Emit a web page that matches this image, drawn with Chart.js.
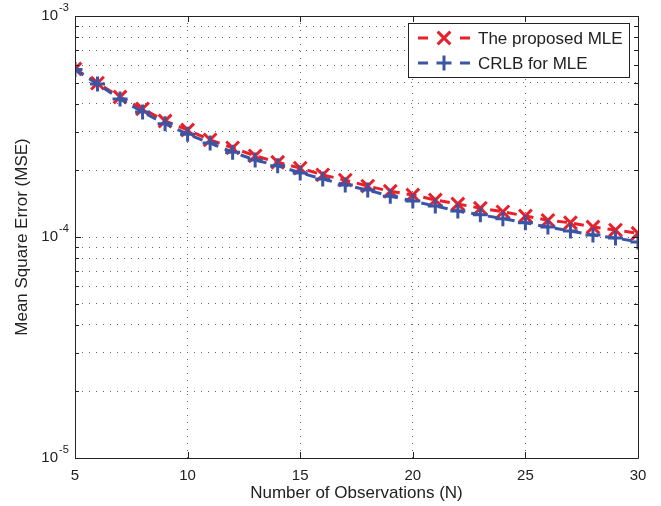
<!DOCTYPE html>
<html>
<head>
<meta charset="utf-8">
<script src="https://cdn.jsdelivr.net/npm/chart.js@4.4.0/dist/chart.umd.min.js"></script>
<style>
  body { margin: 0; background: #fff; }
  canvas { display: block; }
</style>
</head>
<body>
<canvas id="myChart" width="661" height="506"></canvas>
<script>
// observations N
const observations = [5, 6, 7, 8, 9, 10, 11, 12, 13, 14, 15, 16, 17, 18, 19, 20, 21, 22, 23, 24, 25, 26, 27, 28, 29, 30];

// MSE of the proposed estimator (red)
const mleMSE = [5.76e-4, 4.97e-4, 4.30e-4, 3.80e-4, 3.35e-4, 3.05e-4, 2.75e-4, 2.53e-4, 2.33e-4, 2.18e-4,
  2.05e-4, 1.91e-4, 1.81e-4, 1.70e-4, 1.61e-4, 1.55e-4, 1.47e-4, 1.41e-4, 1.35e-4, 1.30e-4,
  1.245e-4, 1.19e-4, 1.16e-4, 1.11e-4, 1.075e-4, 1.04e-4];

// CRLB (blue)
const crlb = [5.72e-4, 4.92e-4, 4.21e-4, 3.68e-4, 3.25e-4, 2.92e-4, 2.66e-4, 2.42e-4, 2.23e-4, 2.10e-4,
  1.95e-4, 1.83e-4, 1.72e-4, 1.63e-4, 1.53e-4, 1.455e-4, 1.38e-4, 1.31e-4, 1.26e-4, 1.21e-4,
  1.16e-4, 1.11e-4, 1.065e-4, 1.02e-4, 9.9e-5, 9.5e-5];

// axis ticks
const xTicks = [5, 10, 15, 20, 25, 30];
const yDecades = [1e-5, 1e-4, 1e-3];
const yTickBase = '10';
const yTickExp = ['-5', '-4', '-3'];

const RED = '#e8202a';
const BLUE = '#3a55a4';
const TXT = '#222';
const FONT = "'Liberation Sans', Arial, sans-serif";

const ctx = document.getElementById("myChart").getContext("2d");

function decadeIndex(value) {
  return yDecades.findIndex(d => Math.abs(d - value) / d < 1e-6);
}

// box round the plot + inward ticks + exponents + legend
const framePlugin = {
  id: 'frame',
  afterDraw(chart) {
    const c = chart.ctx;
    const a = chart.chartArea;
    const xs = chart.scales.x, ys = chart.scales.y;
    c.save();
    c.strokeStyle = '#222';
    c.lineWidth = 1;
    c.beginPath();
    c.rect(a.left + 0.5, a.top + 0.5, a.right - a.left, a.bottom - a.top);
    c.stroke();

    c.beginPath();
    xs.ticks.forEach(t => {
      const px = Math.round(xs.getPixelForValue(t.value)) + 0.5;
      c.moveTo(px, a.bottom); c.lineTo(px, a.bottom - 6);
      c.moveTo(px, a.top); c.lineTo(px, a.top + 6);
    });
    ys.ticks.forEach(t => {
      const py = Math.round(ys.getPixelForValue(t.value)) + 0.5;
      const len = decadeIndex(t.value) >= 0 ? 6 : 4;
      c.moveTo(a.left, py); c.lineTo(a.left + len, py);
      c.moveTo(a.right, py); c.lineTo(a.right - len, py);
    });
    c.stroke();

    // exponents of the y tick labels
    c.fillStyle = TXT;
    c.font = "11px " + FONT;
    c.textAlign = 'left';
    c.textBaseline = 'alphabetic';
    yDecades.forEach((d, i) => {
      const py = ys.getPixelForValue(d);
      c.fillText(yTickExp[i], 59, py - 5);
    });

    // legend
    const lx = 408, ly = 23, lw = 221, lh = 54;
    c.fillStyle = '#fff';
    c.fillRect(lx, ly, lw, lh);
    c.strokeStyle = '#222';
    c.lineWidth = 1;
    c.strokeRect(lx + 0.5, ly + 0.5, lw, lh);
    chart.data.datasets.slice().sort((p, q) => p.legendRow - q.legendRow).forEach((ds, i) => {
      const y = ly + 15 + i * 25;
      c.strokeStyle = ds.borderColor;
      c.lineWidth = 3;
      c.setLineDash([]);
      c.beginPath();
      c.moveTo(418, y); c.lineTo(428, y);
      c.moveTo(460, y); c.lineTo(470, y);
      c.stroke();
      Chart.helpers.drawPoint(c, {
        pointStyle: ds.pointStyle, radius: ds.pointRadius, borderWidth: 3
      }, 444, y);
      c.fillStyle = TXT;
      c.font = "17px " + FONT;
      c.textBaseline = 'middle';
      c.fillText(ds.label, 478, y + 1);
    });
    c.restore();
  }
};

const datasets = [
  {
    label: 'The proposed MLE',
    data: observations.map((n, i) => ({ x: n, y: mleMSE[i] })),
    legendRow: 0,
    order: 1,
    borderColor: RED,
    backgroundColor: RED,
    borderWidth: 3,
    borderDash: [10, 7],
    pointStyle: 'crossRot',
    pointRadius: 9,
    pointBorderWidth: 3,
    pointBorderColor: RED,
    fill: false
  },
  {
    label: 'CRLB for MLE',
    data: observations.map((n, i) => ({ x: n, y: crlb[i] })),
    legendRow: 1,
    order: 0,
    borderColor: BLUE,
    backgroundColor: BLUE,
    borderWidth: 3,
    borderDash: [10, 7],
    pointStyle: 'cross',
    pointRadius: 7.5,
    pointBorderWidth: 3,
    pointBorderColor: BLUE,
    fill: false
  }
];

const config = {
  type: 'line',
  data: { datasets },
  options: {
    responsive: false,
    animation: false,
    layout: { padding: { left: 0, top: 16, right: 23, bottom: 0 } },
    plugins: {
      legend: { display: false },
      tooltip: { enabled: false }
    },
    scales: {
      x: {
        type: 'linear',
        min: 5,
        max: 30,
        afterBuildTicks: (scale) => { scale.ticks = xTicks.map(v => ({ value: v })); },
        afterFit: (scale) => { scale.height = 48; },
        grid: { color: '#666', lineWidth: 1, drawTicks: false },
        border: { display: false, dash: [1, 6] },
        ticks: { color: TXT, font: { family: FONT, size: 15 }, padding: 9, maxRotation: 0 },
        title: {
          display: true,
          text: 'Number of Observations (N)',
          color: TXT,
          font: { family: FONT, size: 17 },
          padding: { top: 0, bottom: 2 }
        }
      },
      y: {
        type: 'logarithmic',
        min: 1e-5,
        max: 1e-3,
        afterBuildTicks: (scale) => {
          const t = [];
          [1e-5, 1e-4].forEach(d => {
            for (let k = 1; k <= 9; k++) t.push({ value: +(k * d).toPrecision(3) });
          });
          t.push({ value: 1e-3 });
          scale.ticks = t;
        },
        afterFit: (scale) => {
          scale.width = 75;
          scale.paddingTop = 9;
          scale.paddingBottom = 9;
        },
        grid: { color: '#666', lineWidth: 1, drawTicks: false },
        border: { display: false, dash: [1, 6] },
        ticks: {
          color: TXT,
          font: { family: FONT, size: 15 },
          padding: 17,
          autoSkip: false,
          callback: (value) => (decadeIndex(value) >= 0 ? yTickBase : '')
        },
        title: {
          display: true,
          text: 'Mean Square Error (MSE)',
          color: TXT,
          font: { family: FONT, size: 17 },
          padding: { top: 12, bottom: 0 }
        }
      }
    }
  },
  plugins: [framePlugin]
};

const myChart = new Chart(ctx, config);
</script>
</body>
</html>
